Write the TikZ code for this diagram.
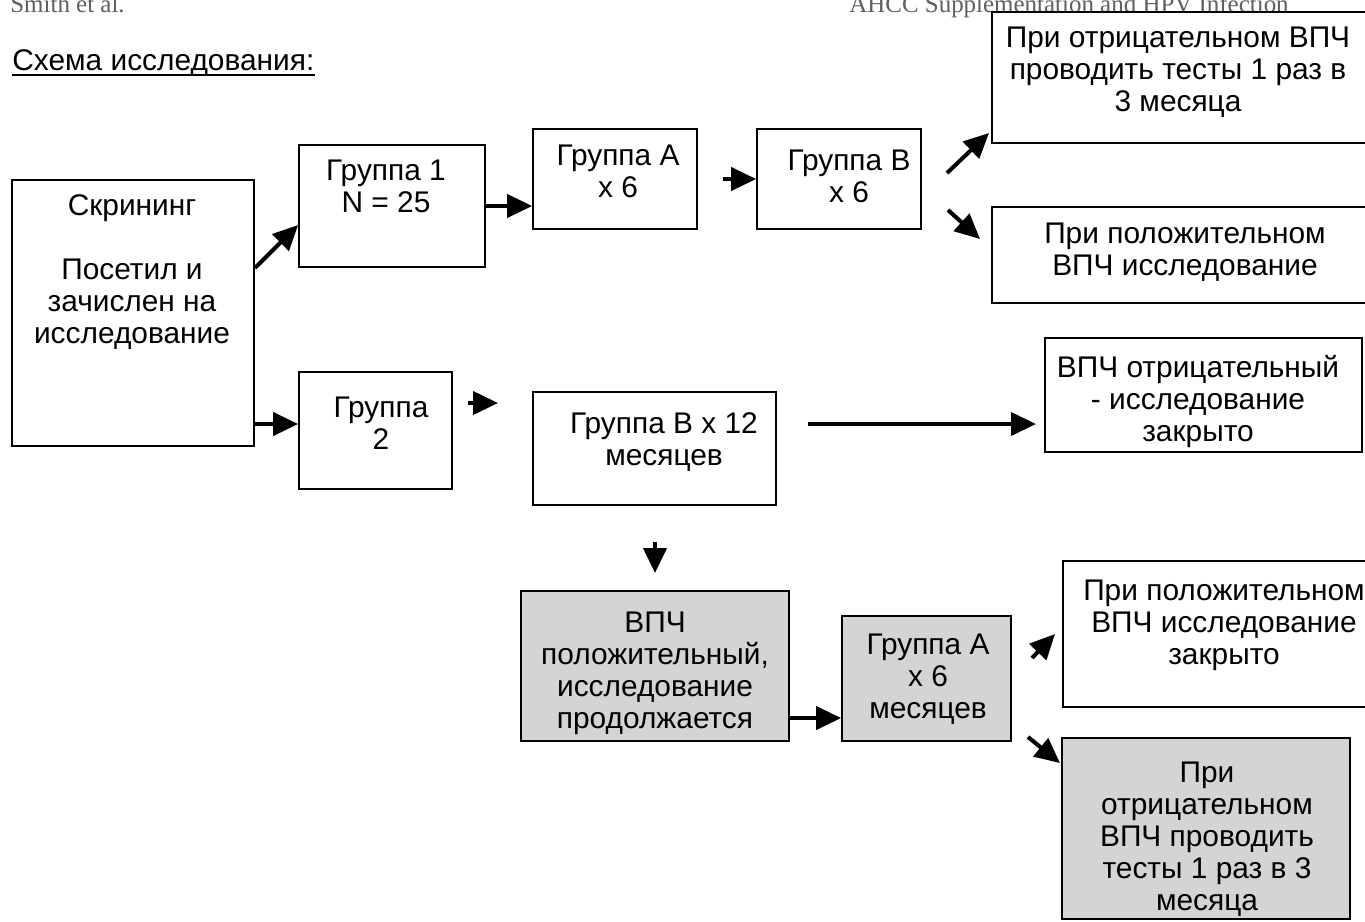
\documentclass[tikz,border=0pt]{standalone}
\usepackage{fontspec}
\setmainfont{Liberation Sans}
\newfontfamily\hdrfont{Liberation Serif}
\usetikzlibrary{arrows.meta,positioning}
\definecolor{boxgray}{RGB}{212,212,212}
\definecolor{hdrgray}{RGB}{95,95,95}
\tikzset{
  box/.style={draw=black, line width=1pt, inner sep=0pt},
  shaded/.style={box, fill=boxgray},
  txt/.style={align=center, inner sep=0pt, anchor=base, font=\fontsize{17}{18.2}\selectfont},
  hdr/.style={inner sep=0pt, anchor=base west, text=hdrgray, font=\hdrfont\fontsize{14.2}{16}\selectfont},
  arr/.style={line width=2.3pt, -{Triangle[length=0.5cm, width=0.46cm]}},
}
\begin{document}
\begin{tikzpicture}[x=0.02cm, y=-0.02cm]
\useasboundingbox (0,0) rectangle (1365,921);
% Kolontituly
\node[hdr] (hdr-l) at (10,12) {Smith et al.};
\node[hdr] (hdr-r) at (849,12) {AHCC Supplementation and HPV Infection};
% Zagolovok
\node[txt, anchor=base west] (title) at (12,70) {Схема исследования:};
\draw[line width=0.9pt] ([yshift=-2.8pt]title.base west) -- ([yshift=-2.8pt]title.base east);
%
% Skrining (base = poslednjaja stroka)
\node[box, minimum width=4.84cm, minimum height=5.32cm] (scr) at (133,313) {};
\node[txt] (scr-t) at (132,343) {Скрининг\\[18.2pt]Посетил и\\зачислен на\\исследование};
% Gruppa 1
\node[box, minimum width=3.72cm, minimum height=2.44cm] (g1) at (392,206) {};
\node[txt] (g1-t) at (386,212) {Группа 1\\N = 25};
% Gruppa 2
\node[box, minimum width=3.06cm, minimum height=2.34cm] (g2) at (375.5,430.5) {};
\node[txt] (g2-t) at (381,449) {Группа\\2};
% Gruppa A x 6
\node[box, minimum width=3.28cm, minimum height=2cm] (gA) at (615,179) {};
\node[txt] (gA-t) at (618,197) {Группа A\\x 6};
% Gruppa B x 6
\node[box, minimum width=3.28cm, minimum height=2cm] (gB) at (839,179) {};
\node[txt] (gB-t) at (849,202) {Группа B\\x 6};
% Otricatelnyj VPCh, testy
\node[box, minimum width=7.52cm, minimum height=2.62cm] (neg1) at (1180,77.5) {};
\node[txt] (neg1-t) at (1178,111) {При отрицательном ВПЧ\\проводить тесты 1 раз в\\3 месяца};
% Polozhitelnyj VPCh
\node[box, minimum width=7.72cm, minimum height=1.92cm] (pos1) at (1185,255) {};
\node[txt] (pos1-t) at (1185,275) {При положительном\\ВПЧ исследование};
% Gruppa B x 12
\node[box, minimum width=4.86cm, minimum height=2.26cm] (g12) at (654.5,448.5) {};
\node[txt] (g12-t) at (664,465) {Группа B x 12\\месяцев};
% VPCh otricatelnyj, zakryto
\node[box, minimum width=6.34cm, minimum height=2.28cm] (neg2) at (1203.5,395) {};
\node[txt] (neg2-t) at (1198,441) {ВПЧ отрицательный\\- исследование\\закрыто};
% VPCh polozhitelnyj, prodolzhaetsja
\node[shaded, minimum width=5.36cm, minimum height=3cm] (hpvpos) at (655,666) {};
\node[txt] (hpvpos-t) at (655,728) {ВПЧ\\положительный,\\исследование\\продолжается};
% Gruppa A x 6 mesjacev
\node[shaded, minimum width=3.38cm, minimum height=2.5cm] (gA6) at (926.5,678.5) {};
\node[txt] (gA6-t) at (928,718) {Группа A\\x 6\\месяцев};
% Polozhitelnyj, zakryto
\node[box, minimum width=6.36cm, minimum height=2.92cm] (pos2) at (1222,634) {};
\node[txt] (pos2-t) at (1224,664) {При положительном\\ВПЧ исследование\\закрыто};
% Otricatelnyj, testy
\node[shaded, minimum width=5.76cm, minimum height=3.62cm] (neg3) at (1206,828.5) {};
\node[txt] (neg3-t) at (1207,910) {При\\отрицательном\\ВПЧ проводить\\тесты 1 раз в 3\\месяца};
%
% Strelki
\draw[arr] (scr.east |- 0,268) -- (g1.west |- 0,225);
\draw[arr] (scr.east |- 0,424) -- (g2.west |- 0,424);
\draw[arr] (g1.east) -- (gA.west |- g1.east);
\coordinate (ab) at (723,179);
\draw[arr] (ab) -- (gB.west);
\coordinate (b-up) at (947,173);
\coordinate (b-up-e) at (989,133);
\draw[arr] (b-up) -- (b-up-e);
\coordinate (b-dn) at (948,210);
\coordinate (b-dn-e) at (980,239);
\draw[arr] (b-dn) -- (b-dn-e);
\coordinate (g2-o) at (468,403);
\coordinate (g2-e) at (498,403);
\draw[arr] (g2-o) -- (g2-e);
\coordinate (g12-o) at (808,424);
\coordinate (g12-e) at (1036,424);
\draw[arr] (g12-o) -- (g12-e);
\coordinate (dn-o) at (655,542);
\coordinate (dn-e) at (655,573);
\draw[arr] (dn-o) -- (dn-e);
\draw[arr] (hpvpos.east |- 0,718) -- (gA6.west |- 0,718);
\coordinate (a6-up) at (1032,658);
\coordinate (a6-up-e) at (1055,634);
\draw[arr] (a6-up) -- (a6-up-e);
\coordinate (a6-dn) at (1028,737);
\coordinate (a6-dn-e) at (1060,763);
\draw[arr] (a6-dn) -- (a6-dn-e);
\end{tikzpicture}
\end{document}
